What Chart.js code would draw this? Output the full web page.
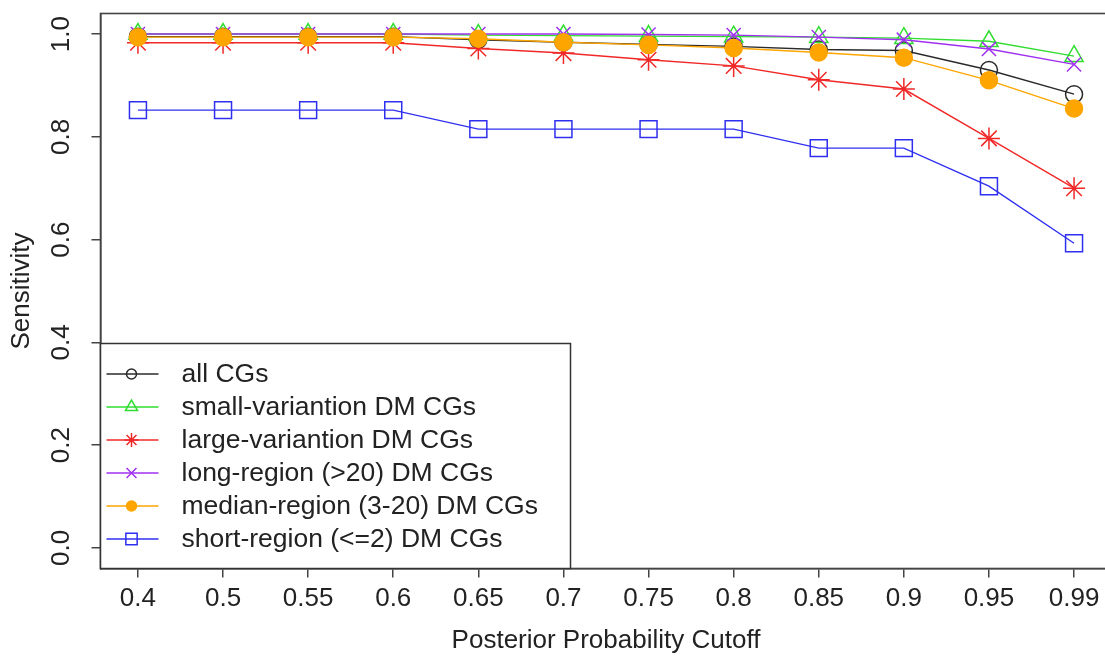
<!DOCTYPE html>
<html><head><meta charset="utf-8">
<script src="https://cdn.jsdelivr.net/npm/chart.js@4.4.1/dist/chart.umd.min.js"></script>
<style>
html,body{margin:0;padding:0;background:#fff;overflow:hidden;width:1105px;height:656px}
#wrap{width:1125px;height:656px}
</style></head>
<body><div id="wrap"><canvas id="c" width="1125" height="656"></canvas></div>
<script>
// ---- data ----
const cutoffLabels = ['0.4','0.5','0.55','0.6','0.65','0.7','0.75','0.8','0.85','0.9','0.95','0.99'];
const allCGs      = [0.995,0.995,0.995,0.995,0.989,0.984,0.980,0.976,0.970,0.968,0.930,0.883];
const smallVarCGs = [1.000,1.000,1.000,1.000,0.998,0.997,0.996,0.995,0.994,0.992,0.986,0.957];
const largeVarCGs = [0.983,0.983,0.983,0.983,0.972,0.963,0.950,0.938,0.911,0.893,0.797,0.700];
const longRegCGs  = [1.000,1.000,1.000,1.000,1.000,1.000,0.999,0.998,0.994,0.989,0.971,0.941];
const medRegCGs   = [0.994,0.994,0.994,0.994,0.991,0.984,0.979,0.973,0.964,0.954,0.910,0.855];
const shortRegCGs = [0.852,0.852,0.852,0.852,0.815,0.815,0.815,0.815,0.778,0.778,0.704,0.593];
const seriesNames = ['all CGs','small-variantion DM CGs','large-variantion DM CGs',
  'long-region (>20) DM CGs','median-region (3-20) DM CGs','short-region (<=2) DM CGs'];
const yTickValues = [0, 0.2, 0.4, 0.6, 0.8, 1.0];

const FONT = '"Liberation Sans", Arial, sans-serif';
Chart.defaults.font.family = FONT;
Chart.defaults.color = '#222';

const styles = [
  {c:'#2a2a2a', ps:'circle',   r:8.5, fill:'rgba(0,0,0,0)', lr:5},
  {c:'#30dd30', ps:'triangle', r:10.5, fill:'rgba(0,0,0,0)', lr:7},
  {c:'#f02828', ps:'star',     r:11, fill:'rgba(0,0,0,0)', lr:7},
  {c:'#a030f0', ps:'crossRot', r:10, fill:'rgba(0,0,0,0)', lr:7},
  {c:'#ffa500', ps:'circle',   r:8.5, fill:'#ffa500', lr:5, filled:true},
  {c:'#2f2ff0', ps:'rect',     r:12, fill:'rgba(0,0,0,0)', lr:8}
];
const seriesData = [allCGs, smallVarCGs, largeVarCGs, longRegCGs, medRegCGs, shortRegCGs];

const datasets = seriesData.map((arr,i)=>({
  label: seriesNames[i],
  data: arr.map((v,j)=>({x:j+1, y:v})),
  borderColor: styles[i].c,
  borderWidth: 1.4,
  pointStyle: styles[i].ps,
  pointRadius: styles[i].r,
  pointBorderWidth: 1.5,
  pointBorderColor: styles[i].c,
  pointBackgroundColor: styles[i].fill,
  pointHoverRadius: styles[i].r,
  tension: 0,
  fill: false,
  clip: false,
  order: 5 - i
}));

function mark(ctx, st, x, y, r){
  ctx.beginPath();
  const d = r*Math.SQRT1_2;
  switch(st.ps){
    case 'circle': ctx.arc(x,y,r,0,2*Math.PI); break;
    case 'triangle': ctx.moveTo(x,y-r); ctx.lineTo(x+r*0.866,y+r*0.5); ctx.lineTo(x-r*0.866,y+r*0.5); ctx.closePath(); break;
    case 'rect': ctx.rect(x-d,y-d,2*d,2*d); break;
    case 'crossRot': ctx.moveTo(x-d,y-d); ctx.lineTo(x+d,y+d); ctx.moveTo(x+d,y-d); ctx.lineTo(x-d,y+d); break;
    case 'star':
      ctx.moveTo(x-r,y); ctx.lineTo(x+r,y); ctx.moveTo(x,y-r); ctx.lineTo(x,y+r);
      ctx.moveTo(x-d,y-d); ctx.lineTo(x+d,y+d); ctx.moveTo(x+d,y-d); ctx.lineTo(x-d,y+d); break;
  }
  if (st.filled){ ctx.fillStyle = st.fill; ctx.fill(); }
  ctx.stroke();
}

const boxPlugin = {
  id:'rBox',
  afterDraw(chart){
    const a = chart.chartArea, ctx = chart.ctx;
    ctx.save();
    ctx.strokeStyle = '#444'; ctx.lineWidth = 1.6;
    ctx.strokeRect(a.left, a.top, a.right-a.left, a.bottom-a.top);
    // legend
    const left = a.left, bottom = a.bottom, w = 470, h = 225;
    ctx.fillStyle = '#fff'; ctx.fillRect(left, bottom-h, w, h);
    ctx.strokeStyle = '#333'; ctx.lineWidth = 1.5;
    ctx.strokeRect(left, bottom-h, w, h);
    ctx.font = '26.5px ' + FONT;
    ctx.textBaseline = 'middle'; ctx.textAlign = 'left';
    seriesNames.forEach((name,i)=>{
      const y = bottom - 29.5 - (5-i)*33;
      const st = styles[i];
      ctx.strokeStyle = st.c; ctx.lineWidth = 1.5;
      ctx.beginPath(); ctx.moveTo(left+6,y); ctx.lineTo(left+58,y); ctx.stroke();
      mark(ctx, st, left+31, y, st.lr);
      ctx.fillStyle = '#222';
      ctx.fillText(name, left+81, y+1);
    });
    ctx.restore();
  }
};

new Chart(document.getElementById('c'), {
  type: 'line',
  data: { datasets },
  plugins: [boxPlugin],
  options: {
    responsive: false,
    animation: false,
    events: [],
    layout: { padding: { top: 6.5, left: 0, right: 13, bottom: 0 } },
    plugins: { legend: { display: false }, tooltip: { enabled: false } },
    scales: {
      x: {
        type: 'linear', min: 0.56, max: 12.44,
        afterBuildTicks: s => { s.ticks = cutoffLabels.map((_,j)=>({value:j+1})); },
        afterFit: s => { s.height = 87.5; s.paddingLeft = 0; s.paddingRight = 0; },
        ticks: { autoSkip:false, maxRotation:0, minRotation:0, padding: 6,
          font:{size:26}, color:'#222',
          callback: v => cutoffLabels[Math.round(v)-1] },
        grid: { drawOnChartArea:false, drawTicks:true, tickLength:9, color:'#444', lineWidth:1.5 },
        border: { display:true, color:'#444', width:1.6 },
        title: { display:true, text:'Posterior Probability Cutoff', font:{size:26}, color:'#222', padding:0 }
      },
      y: {
        type: 'linear', min: -0.04, max: 1.04,
        afterBuildTicks: s => { s.ticks = yTickValues.map(v=>({value:v})); },
        afterFit: s => { s.width = 100.5; s.paddingTop = 0; s.paddingBottom = 0; },
        ticks: { minRotation:90, maxRotation:90, crossAlign:'center', padding: 12,
          font:{size:26}, color:'#222',
          callback: v => Number(v).toFixed(1) },
        grid: { drawOnChartArea:false, drawTicks:true, tickLength:9, color:'#444', lineWidth:1.5 },
        border: { display:true, color:'#444', width:1.6 },
        title: { display:true, text:'Sensitivity', font:{size:26}, color:'#222', padding:6 }
      }
    }
  }
});
</script>
</body></html>
